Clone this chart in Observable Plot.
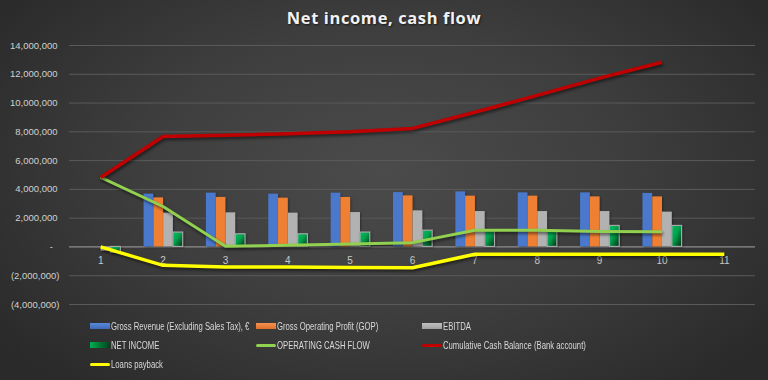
<!DOCTYPE html>
<html><head><meta charset="utf-8">
<script src="https://cdn.jsdelivr.net/npm/d3@7"></script>
<script src="https://cdn.jsdelivr.net/npm/@observablehq/plot@0.6"></script>
<style>
html,body{margin:0;padding:0;}
#wrap{position:relative;width:768px;height:380px;overflow:hidden;
 background:radial-gradient(ellipse 62% 75% at 50% 45%, #4b4b4b 0%, #3e3e3e 50%, #2a2a2a 100%);}
#title{position:absolute;left:0;top:6px;width:768px;text-align:center;font-family:"Open Sans",sans-serif;font-weight:700;font-size:16.5px;letter-spacing:0.6px;color:#f2f2f2;text-shadow:1px 1px 2px rgba(0,0,0,0.6);}
#chart{position:absolute;left:0;top:0;}
#legend .item{position:absolute;height:14px;}
#legend .sw{position:absolute;left:0;width:20px;}
#legend .tx{position:absolute;left:21px;top:0;line-height:14px;font-family:"Liberation Sans",Arial,sans-serif;font-size:10.5px;color:#d9d9d9;white-space:nowrap;transform:scaleX(0.735);transform-origin:0 50%;}
svg g[aria-label="line"] path{filter:drop-shadow(1px 2px 1.5px rgba(0,0,0,0.55));}
svg g[aria-label="rect"] rect{filter:drop-shadow(1px 1px 1px rgba(0,0,0,0.35));}
</style></head>
<body>
<div id="wrap">
 <div id="chart"></div>
 <div id="title">Net income, cash flow</div>
 <div id="legend"></div>
</div>
<script>
const categories = [1, 2, 3, 4, 5, 6, 7, 8, 9, 10, 11];
const grossRevenue = [0, 3670000, 3740000, 3670000, 3740000, 3780000, 3830000, 3760000, 3760000, 3720000, null];
const grossOperatingProfit = [0, 3410000, 3440000, 3390000, 3440000, 3550000, 3530000, 3530000, 3480000, 3480000, null];
const ebitda = [-300000, 2350000, 2370000, 2350000, 2390000, 2510000, 2460000, 2460000, 2460000, 2420000, null];
const netIncome = [-400000, 1000000, 880000, 880000, 1000000, 1130000, 1130000, 1110000, 1460000, 1460000, null];
const operatingCashFlow = [4830000, 2810000, 50000, 120000, 200000, 300000, 1160000, 1160000, 1070000, 1050000, null];
const cumulativeCash = [4830000, 7670000, 7760000, 7870000, 8000000, 8240000, 9360000, 10530000, 11730000, 12840000, null];
const loansPayback = [0, -1280000, -1390000, -1400000, -1420000, -1440000, -510000, -510000, -510000, -510000, -510000];
const yTicks = [-4000000, -2000000, 0, 2000000, 4000000, 6000000, 8000000, 10000000, 12000000, 14000000];
const seriesNames = ["Gross Revenue (Excluding Sales Tax), €", "Gross Operating Profit (GOP)", "EBITDA", "NET INCOME", "OPERATING CASH FLOW", "Cumulative Cash Balance (Bank account)", "Loans payback"];

const barSeries = [
  {name: seriesNames[0], values: grossRevenue, fill: "#4a78cc", stroke: "none"},
  {name: seriesNames[1], values: grossOperatingProfit, fill: "#ef7f33", stroke: "none"},
  {name: seriesNames[2], values: ebitda, fill: "#b2b2b2", stroke: "none"},
  {name: seriesNames[3], values: netIncome, fill: "url(#niGrad)", stroke: "#a8a8a8"}
];
const lineSeries = [
  {name: seriesNames[4], values: operatingCashFlow, stroke: "#92d050", w: 3},
  {name: seriesNames[5], values: cumulativeCash, stroke: "#c00000", w: 3.5},
  {name: seriesNames[6], values: loansPayback, stroke: "#ffff00", w: 3.5}
];

const barW = 0.157, groupStart = -0.305;
const barMarks = barSeries.map((s, k) => {
  const data = categories.map((c, i) => ({cat: c, value: s.values[i]})).filter(d => d.value != null);
  return Plot.rectY(data, {
    x1: d => d.cat + groupStart + k * barW,
    x2: d => d.cat + groupStart + (k + 1) * barW,
    y1: 0, y2: "value",
    fill: s.fill, stroke: s.stroke, strokeWidth: s.stroke === "none" ? 0 : 1.2
  });
});
const lineMarks = lineSeries.map(s => {
  const data = categories.map((c, i) => ({cat: c, value: s.values[i]})).filter(d => d.value != null);
  return Plot.line(data, {x: "cat", y: "value", stroke: s.stroke, strokeWidth: s.w, strokeLinejoin: "round", strokeLinecap: "butt"});
});

const fmt = v => v === 0 ? "-\u2002\u2009" : v < 0 ? "(" + d3.format(",")(-v) + ")" : d3.format(",")(v) + "\u2009";

const chart = Plot.plot({
  width: 768, height: 314,
  marginTop: 45, marginBottom: 10, marginLeft: 69, marginRight: 13,
  style: {background: "transparent", color: "#d0d0d0", fontFamily: "'Liberation Sans', Arial, sans-serif", fontSize: "9.5px", overflow: "visible"},
  x: {type: "linear", domain: [0.5, 11.5], axis: null},
  y: {domain: [-4000000, 14000000], ticks: yTicks, tickFormat: fmt, tickSize: 0, tickPadding: 10, label: null},
  marks: [
    Plot.ruleY(yTicks.filter(t => t !== 0), {stroke: "#5a5a5a", strokeWidth: 1}),
    Plot.ruleY([0], {stroke: "#8e8e8e", strokeWidth: 1.2}),
    ...barMarks,
    Plot.text(categories, {x: d => d, y: 0, dy: 14, text: d => String(d), fill: "#c8c8c8", fontSize: 10}),
    ...lineMarks
  ]
});
const ns = "http://www.w3.org/2000/svg";
const defs = document.createElementNS(ns, "defs");
defs.innerHTML = '<linearGradient id="niGrad" x1="0" y1="0" x2="1" y2="1"><stop offset="0" stop-color="#00c060"/><stop offset="0.45" stop-color="#00a04c"/><stop offset="1" stop-color="#002e14"/></linearGradient>';
chart.insertBefore(defs, chart.firstChild);
document.getElementById("chart").appendChild(chart);

const legendItems = [
  {name: seriesNames[0], type: "bar", color: "linear-gradient(#5a88d8,#3f69b8)", x: 90, y: 326},
  {name: seriesNames[1], type: "bar", color: "linear-gradient(#f59050,#e0702a)", x: 256, y: 326},
  {name: seriesNames[2], type: "bar", color: "linear-gradient(#c0c0c0,#a0a0a0)", x: 422, y: 326},
  {name: seriesNames[3], type: "bar", color: "linear-gradient(90deg,#00b050,#00401c)", x: 90, y: 345},
  {name: seriesNames[4], type: "line", color: "#92d050", x: 256, y: 345},
  {name: seriesNames[5], type: "line", color: "#c00000", x: 422, y: 345},
  {name: seriesNames[6], type: "line", color: "#ffff00", x: 90, y: 364}
];
const leg = document.getElementById("legend");
legendItems.forEach(it => {
  const d = document.createElement("div");
  d.className = "item";
  d.style.left = it.x + "px"; d.style.top = (it.y - 7) + "px";
  const sw = document.createElement("span");
  sw.className = "sw";
  const h = it.type === "bar" ? 6 : 3;
  sw.style.height = h + "px";
  sw.style.top = (7 - h / 2) + "px";
  sw.style.background = it.color;
  if (it.type === "line") sw.style.borderRadius = "1.5px";
  const t = document.createElement("span");
  t.className = "tx";
  t.textContent = it.name;
  d.appendChild(sw); d.appendChild(t);
  leg.appendChild(d);
});
</script>
</body></html>
